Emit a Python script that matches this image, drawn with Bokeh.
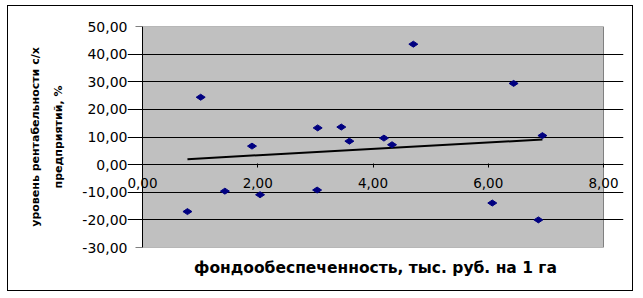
import numpy as np
from bokeh.plotting import figure
from bokeh.models import (Range1d, FixedTicker, CustomJSTickFormatter, Title,
                          LinearAxis, CustomLabelingPolicy)
from bokeh.embed import file_html
from bokeh.resources import INLINE

# ---- data ----
fondo = [0.78, 1.01, 1.43, 1.90, 2.04, 3.03, 3.04, 3.45, 3.59, 4.19, 4.33, 4.70, 6.07, 6.44, 6.87, 6.94]
rent = [-17.0, 24.4, -9.6, 6.7, -10.9, -9.2, 13.3, 13.6, 8.5, 9.6, 7.2, 43.6, -13.9, 29.4, -20.0, 10.5]
x_ticks = [0, 2, 4, 6, 8]
y_ticks = [-30, -20, -10, 0, 10, 20, 30, 40, 50]
y_grid = [-20, -10, 0, 10, 20, 30, 40]
x_title = "фондообеспеченность, тыс. руб. на 1 га"
y_title = "уровень рентабельности с/х\nпредприятий, %"

# linear trend (least squares) from the data
k, b = np.polyfit(fondo, rent, 1)
trend_x = [min(fondo), max(fondo)]
trend_y = [k * v + b for v in trend_x]

# layout: gray plot area is 461 px wide for the 0..8 range; the frame is a
# little wider so that the end tick labels of the x axis are not clipped
PX_PER_UNIT = 461 / 8
PAD_L, PAD_R = 15, 20

p = figure(
    width=626, height=286,
    x_range=Range1d(x_ticks[0] - PAD_L / PX_PER_UNIT, x_ticks[-1] + PAD_R / PX_PER_UNIT),
    y_range=Range1d(y_ticks[0], y_ticks[-1]),
    output_backend="svg", toolbar_location=None,
    min_border_left=134 - PAD_L, min_border_right=31 - PAD_R,
    min_border_top=20, min_border_bottom=45,
)
p.styles = {"border": "1px solid black", "margin-left": "7px", "margin-top": "5px"}
p.background_fill_color = "white"
p.border_fill_color = "white"
p.outline_line_color = None

# gray plotting area
p.quad(left=x_ticks[0], right=x_ticks[-1], bottom=y_ticks[0], top=y_ticks[-1],
       fill_color="#C0C0C0", line_color="#808080", line_width=1, level="image")

fmt = CustomJSTickFormatter(code="return tick.toFixed(2).replace('.', ',');")
no_labels = CustomLabelingPolicy(code="return false")

# left axis: tick labels and title only
ya = p.yaxis[0]
ya.ticker = FixedTicker(ticks=y_ticks)
ya.formatter = fmt
ya.axis_line_color = None
ya.major_tick_line_color = None
ya.major_tick_out = 0
ya.major_tick_in = 0
ya.minor_tick_line_color = None
ya.major_label_standoff = 0
ya.major_label_text_font = "DejaVu Sans"
ya.major_label_text_font_size = "14px"
ya.major_label_text_color = "black"
ya.axis_label = y_title
ya.axis_label_text_font = "DejaVu Sans"
ya.axis_label_text_font_style = "bold"
ya.axis_label_text_font_size = "11px"
ya.axis_label_text_color = "black"
ya.axis_label_standoff = 14
ya.axis_label_text_line_height = 1.8

# y axis line and ticks at x = 0
ya0 = LinearAxis(fixed_location=x_ticks[0], ticker=FixedTicker(ticks=y_ticks),
                 axis_line_color="black", major_tick_line_color="black",
                 major_tick_out=7, major_tick_in=0, minor_tick_line_color=None,
                 major_label_policy=no_labels)
p.add_layout(ya0, "left")

# x axis drawn at y = 0
xa = p.xaxis[0]
xa.fixed_location = 0
xa.bounds = (x_ticks[0], x_ticks[-1])
xa.ticker = FixedTicker(ticks=x_ticks)
xa.formatter = fmt
xa.axis_line_color = "black"
xa.major_tick_line_color = "black"
xa.major_tick_out = 3
xa.major_tick_in = 1
xa.minor_tick_line_color = None
xa.major_label_standoff = 10
xa.major_label_text_font = "DejaVu Sans"
xa.major_label_text_font_size = "13.5px"
xa.major_label_text_color = "black"

p.add_layout(Title(text=x_title, align="center", text_font="DejaVu Sans",
                   text_font_size="15.5px", text_font_style="bold",
                   text_color="black", standoff=18), "below")

p.xgrid.visible = False
p.ygrid.ticker = FixedTicker(ticks=y_grid)
p.ygrid.bounds = (x_ticks[0], x_ticks[-1])
p.ygrid.grid_line_color = "black"
p.ygrid.grid_line_width = 1

p.line(trend_x, trend_y, line_color="black", line_width=2)
p.scatter(fondo, rent, marker="diamond", size=9, angle=np.pi / 2,
          fill_color="#000080", line_color="#000080")

open("out.html", "w").write(file_html(p, INLINE))
